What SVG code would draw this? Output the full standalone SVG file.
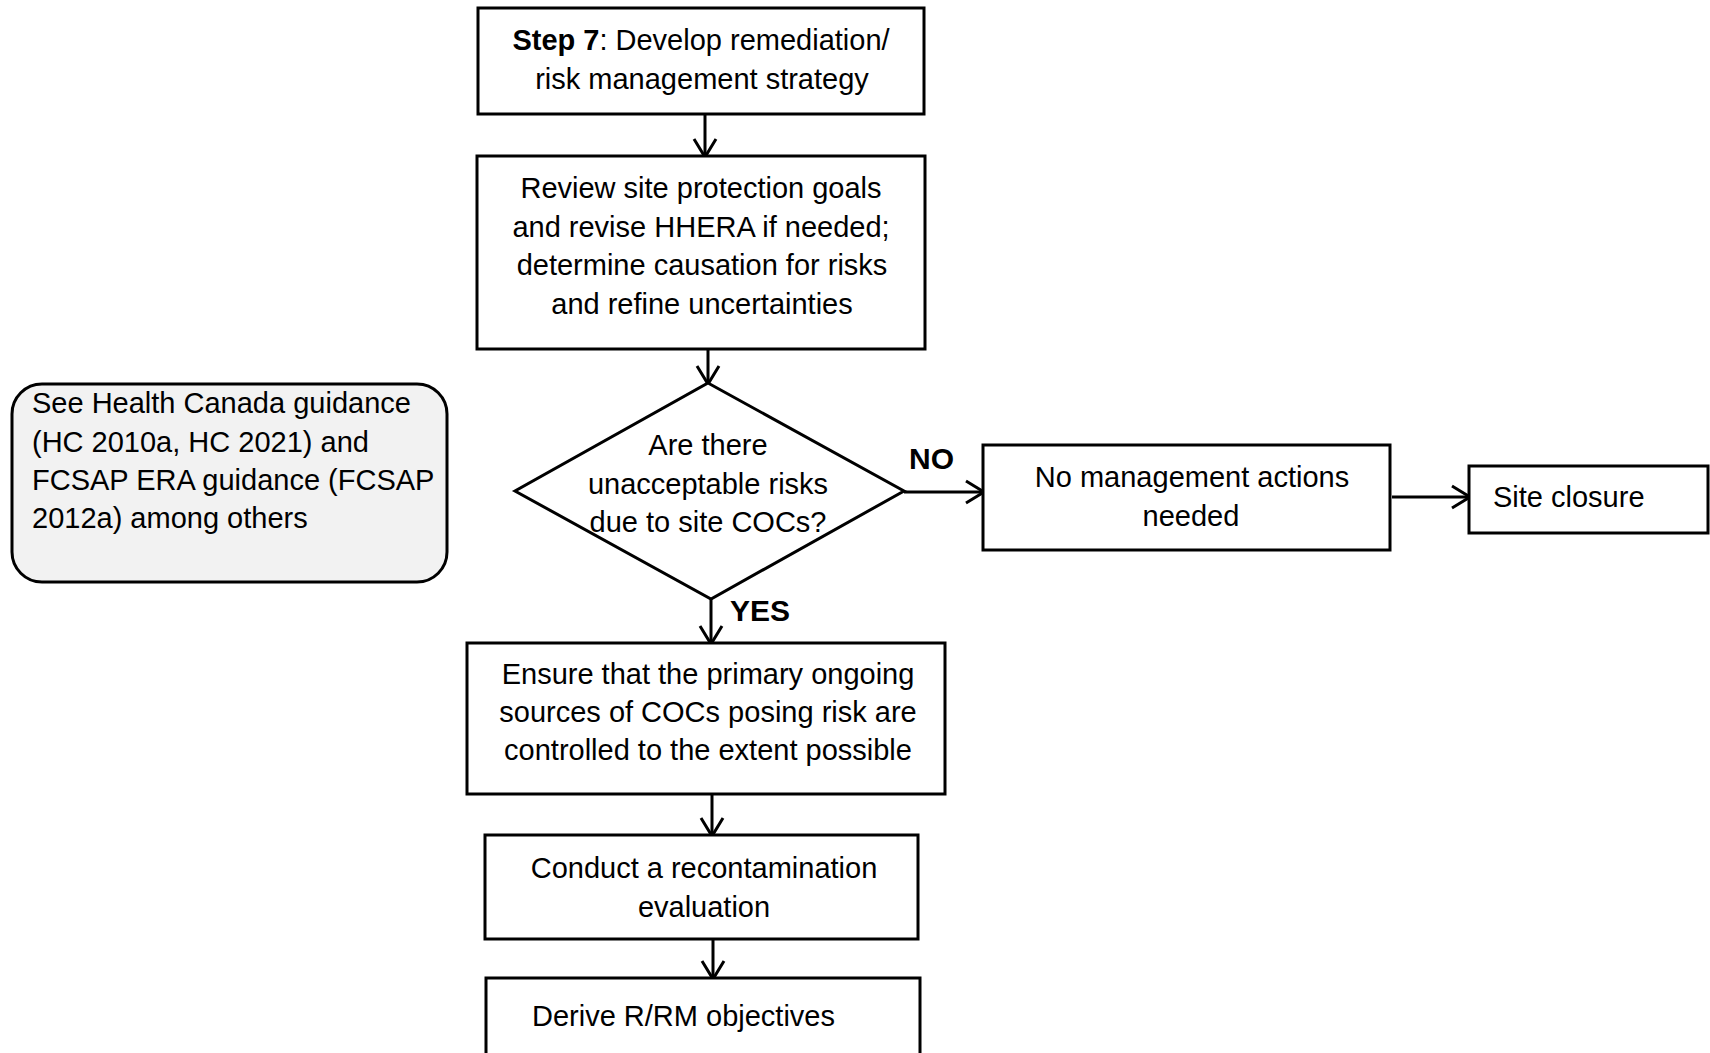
<svg xmlns="http://www.w3.org/2000/svg" width="1710" height="1053" viewBox="0 0 1710 1053">
  <style>
    .box { fill: #ffffff; stroke: #000000; stroke-width: 3; }
    .note { fill: #f2f2f2; stroke: #000000; stroke-width: 3; }
    .txt { font-family: "Liberation Sans", Arial, sans-serif; font-size: 29px; fill: #000000; }
    .mid { text-anchor: middle; }
    .bold { font-weight: bold; }
    .lbl { font-family: "Liberation Sans", Arial, sans-serif; font-size: 30px; font-weight: bold; fill: #000000; }
    .conn { fill: none; stroke: #000000; stroke-width: 3; marker-end: url(#arrow); }
  </style>
  <defs>
    <marker id="arrow" markerUnits="userSpaceOnUse" viewBox="-3 -3 25 28" markerWidth="25" markerHeight="28" refX="17" refY="11" orient="auto">
      <path d="M0,0 L18,11 L0,22" fill="none" stroke="#000000" stroke-width="3"/>
    </marker>
  </defs>

  <rect width="1710" height="1053" fill="#ffffff"/>

  <!-- connectors -->
  <g id="connectors">
    <line class="conn" x1="705" y1="114" x2="705" y2="156"/>
    <line class="conn" x1="708" y1="349" x2="708" y2="383"/>
    <line class="conn" x1="711" y1="599" x2="711" y2="643"/>
    <line class="conn" x1="904" y1="492" x2="983" y2="492"/>
    <line class="conn" x1="1392" y1="497" x2="1469" y2="497"/>
    <line class="conn" x1="712" y1="794" x2="712" y2="835"/>
    <line class="conn" x1="713" y1="939" x2="713" y2="978"/>
    <text class="lbl" x="909" y="469">NO</text>
    <text class="lbl" x="730" y="621">YES</text>
  </g>

  <!-- Step 7 -->
  <g id="step7">
    <rect class="box" x="478" y="8" width="446" height="106"/>
    <text class="txt mid" x="701" y="50"><tspan class="bold">Step 7</tspan>: Develop remediation/</text>
    <text class="txt mid" x="702" y="89">risk management strategy</text>
  </g>

  <!-- Review site protection goals -->
  <g id="review">
    <rect class="box" x="477" y="156" width="448" height="193"/>
    <text class="txt mid" x="701" y="198">Review site protection goals</text>
    <text class="txt mid" x="701" y="237">and revise HHERA if needed;</text>
    <text class="txt mid" x="702" y="275">determine causation for risks</text>
    <text class="txt mid" x="702" y="314">and refine uncertainties</text>
  </g>

  <!-- guidance note -->
  <g id="note">
    <rect class="note" x="12" y="384" width="435" height="198" rx="30" ry="30"/>
    <text class="txt" x="32" y="413">See Health Canada guidance</text>
    <text class="txt" x="32" y="452">(HC 2010a, HC 2021) and</text>
    <text class="txt" x="32" y="490">FCSAP ERA guidance (FCSAP</text>
    <text class="txt" x="32" y="528">2012a) among others</text>
  </g>

  <!-- decision -->
  <g id="decision">
    <polygon class="box" points="708,383 904,491 711,599 515,491"/>
    <text class="txt mid" x="708" y="455">Are there</text>
    <text class="txt mid" x="708" y="494">unacceptable risks</text>
    <text class="txt mid" x="708" y="532">due to site COCs?</text>
  </g>

  <!-- no management actions -->
  <g id="no-actions">
    <rect class="box" x="983" y="445" width="407" height="105"/>
    <text class="txt mid" x="1192" y="487">No management actions</text>
    <text class="txt mid" x="1191" y="526">needed</text>
  </g>

  <!-- site closure -->
  <g id="site-closure">
    <rect class="box" x="1469" y="466" width="239" height="67"/>
    <text class="txt" x="1493" y="507">Site closure</text>
  </g>

  <!-- control sources -->
  <g id="control-sources">
    <rect class="box" x="467" y="643" width="478" height="151"/>
    <text class="txt mid" x="708" y="684">Ensure that the primary ongoing</text>
    <text class="txt mid" x="708" y="722">sources of COCs posing risk are</text>
    <text class="txt mid" x="708" y="760">controlled to the extent possible</text>
  </g>

  <!-- recontamination evaluation -->
  <g id="recontamination">
    <rect class="box" x="485" y="835" width="433" height="104"/>
    <text class="txt mid" x="704" y="878">Conduct a recontamination</text>
    <text class="txt mid" x="704" y="917">evaluation</text>
  </g>

  <!-- R/RM objectives -->
  <g id="objectives">
    <rect class="box" x="486" y="978" width="434" height="100"/>
    <text class="txt" x="532" y="1026">Derive R/RM objectives</text>
  </g>
</svg>
